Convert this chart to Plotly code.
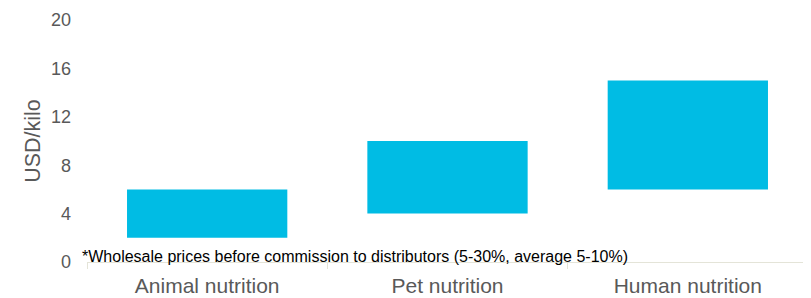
import plotly.graph_objects as go

categories = ["Animal nutrition", "Pet nutrition", "Human nutrition"]
low_values = [2, 4, 6]
high_values = [6, 10, 15]
y_ticks = [0, 4, 8, 12, 16, 20]
note = "*Wholesale prices before commission to distributors (5-30%, average 5-10%)"

fig = go.Figure()
fig.add_trace(go.Bar(
    x=categories,
    y=[h - l for h, l in zip(high_values, low_values)],
    base=low_values,
    marker=dict(color="#00BCE4", line=dict(width=0)),
    hoverinfo="skip",
))

# page body has an 8px margin, so the figure is offset by (8, 8)
fig.update_layout(
    width=803, height=290,
    margin=dict(l=79, r=3, t=12, b=36),
    plot_bgcolor="white", paper_bgcolor="white",
    bargap=0.333,
    showlegend=False,
    font=dict(family="Liberation Sans, Arial, sans-serif", color="#595959"),
    xaxis=dict(
        automargin=False,
        showline=True, linecolor="#E4E4D8", linewidth=1,
        ticks="outside", tickson="boundaries", ticklen=6, tickcolor="#E4E4D8",
        tickfont=dict(size=21, color="#595959"),
        ticklabelstandoff=5,
    ),
    yaxis=dict(
        automargin=False,
        range=[0, 20], tickvals=y_ticks, showgrid=False, zeroline=False,
        showline=False, ticks="",
        tickfont=dict(size=18, color="#595959"),
        ticklabelstandoff=15,
        title=dict(text="USD/kilo", font=dict(size=21.5, color="#595959"), standoff=4),
    ),
)
fig.add_annotation(
    x=0, xref="paper", xshift=-7, y=0, yref="y", yshift=-5,
    text=note, showarrow=False, xanchor="left", yanchor="bottom",
    font=dict(size=16, color="#000000", family="Liberation Sans, Arial, sans-serif"),
)
fig.write_html("out.html")
